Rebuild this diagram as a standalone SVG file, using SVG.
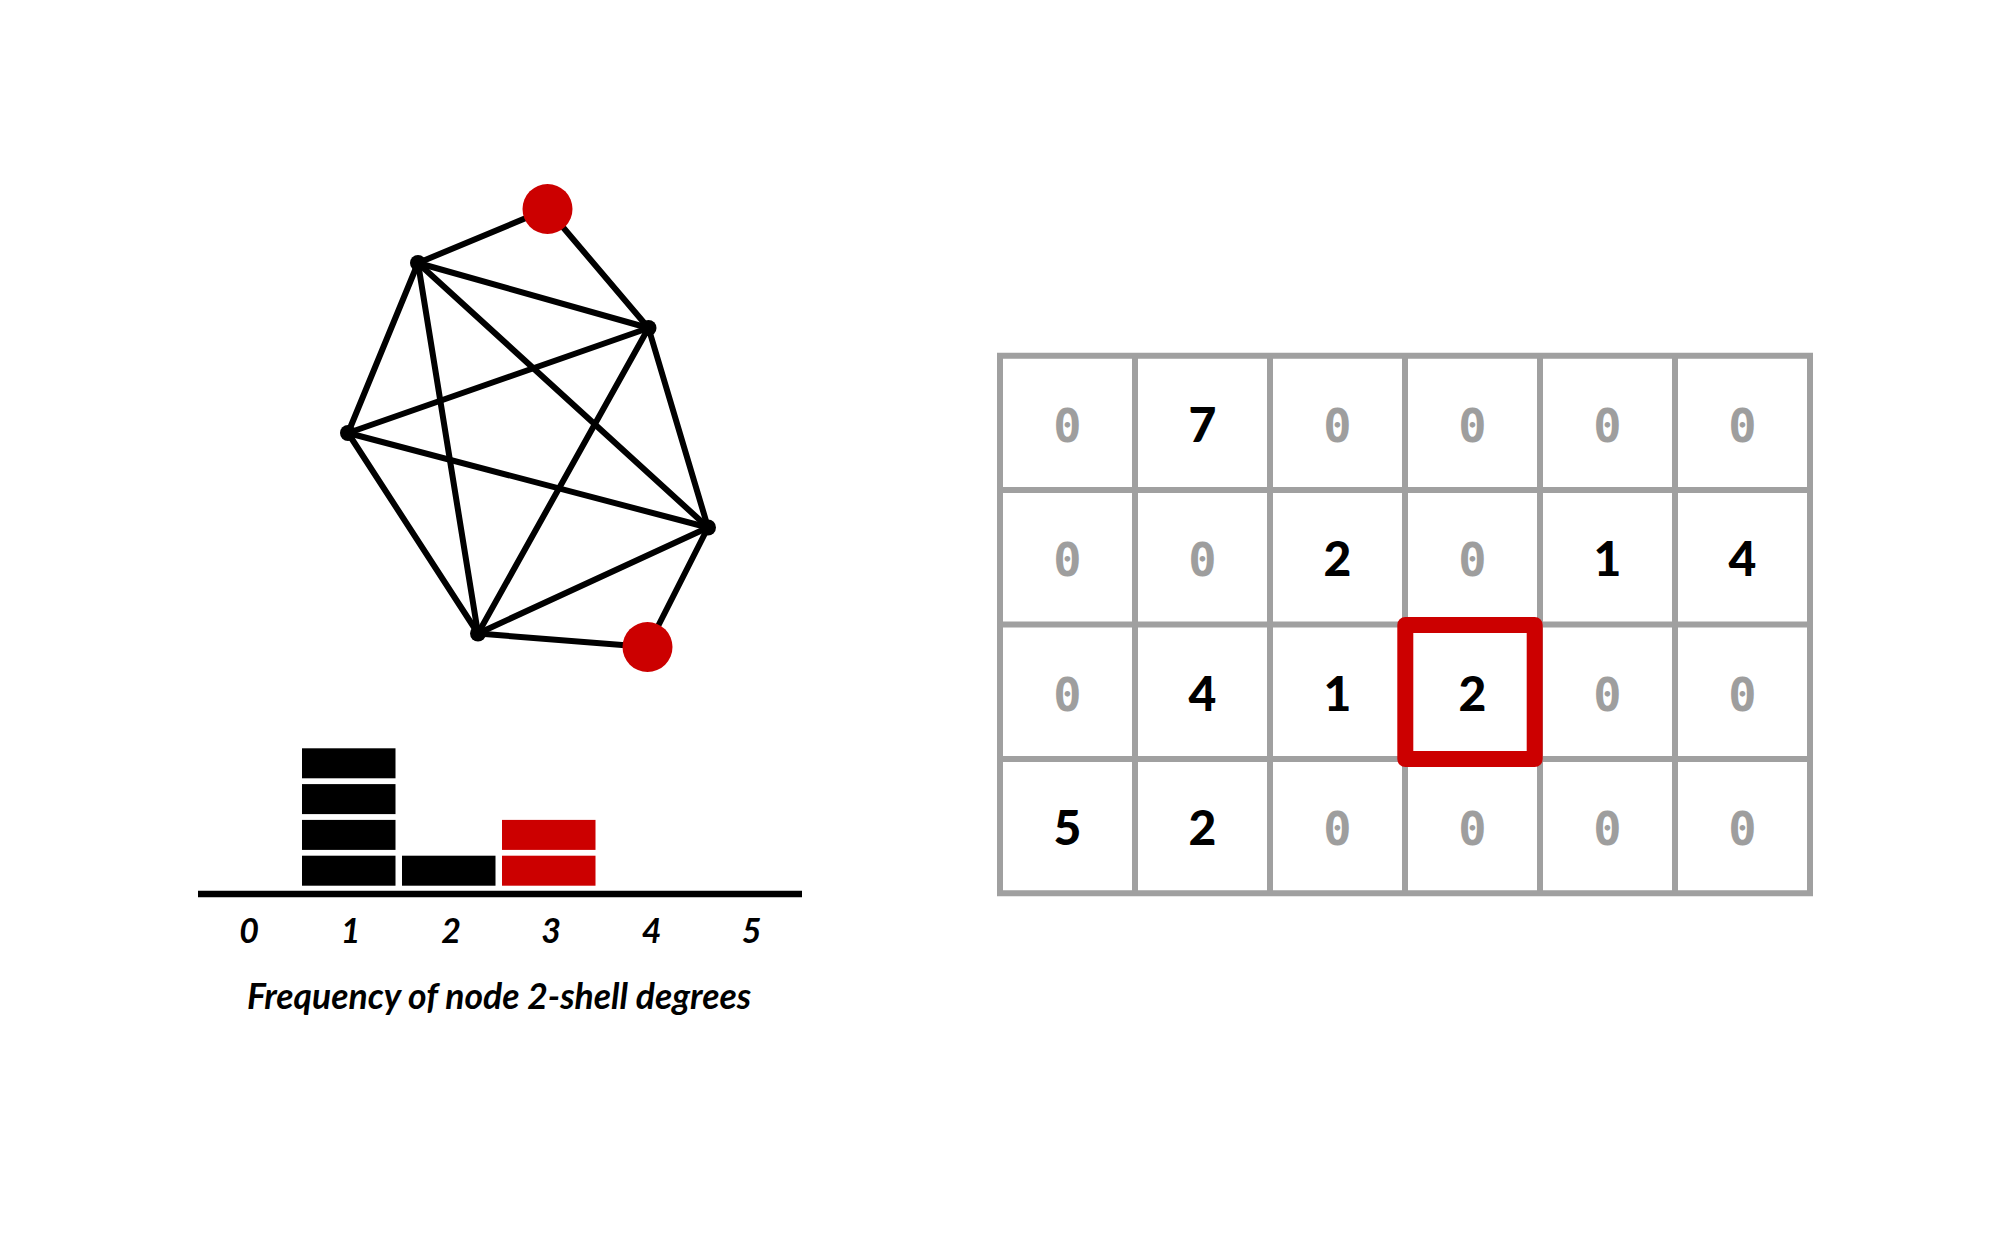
<svg xmlns="http://www.w3.org/2000/svg" width="2000" height="1250" viewBox="0 0 2000 1250">
<style>
.edge{stroke:#000;stroke-width:6;stroke-linecap:round}
.vert{fill:#000}
.hub{fill:#cc0000}
.bar{fill:#000}
.barr{fill:#cc0000}
.grid{stroke:#a0a0a0;stroke-width:6;fill:none;stroke-linecap:square}
.nz{font-family:Lato,"Liberation Sans",sans-serif;font-weight:900;font-size:48px;fill:#000;text-anchor:middle}
.z{font-family:"DejaVu Sans Mono","Liberation Mono",monospace;font-weight:700;font-size:47px;fill:#9e9e9e;text-anchor:middle}
.ax{font-family:Lato,"Liberation Sans",sans-serif;font-style:italic;font-weight:700;font-size:34px;fill:#000;text-anchor:middle}
.ttl{font-size:35.5px}
</style>
<rect width="2000" height="1250" fill="#fff"/>
<g id="connectors">
<line class="edge" x1="547.5" y1="209" x2="418" y2="263"/>
<line class="edge" x1="547.5" y1="209" x2="648.5" y2="328"/>
<line class="edge" x1="418" y1="263" x2="648.5" y2="328"/>
<line class="edge" x1="418" y1="263" x2="348" y2="433"/>
<line class="edge" x1="418" y1="263" x2="478" y2="633.5"/>
<line class="edge" x1="418" y1="263" x2="708" y2="527.5"/>
<line class="edge" x1="648.5" y1="328" x2="348" y2="433"/>
<line class="edge" x1="648.5" y1="328" x2="478" y2="633.5"/>
<line class="edge" x1="648.5" y1="328" x2="708" y2="527.5"/>
<line class="edge" x1="348" y1="433" x2="708" y2="527.5"/>
<line class="edge" x1="348" y1="433" x2="478" y2="633.5"/>
<line class="edge" x1="708" y1="527.5" x2="478" y2="633.5"/>
<line class="edge" x1="708" y1="527.5" x2="647.5" y2="647"/>
<line class="edge" x1="478" y1="633.5" x2="647.5" y2="647"/>
</g>
<g id="node-a"><circle class="vert" cx="418" cy="263" r="8"/></g>
<g id="node-b"><circle class="vert" cx="648.5" cy="328" r="8"/></g>
<g id="node-c"><circle class="vert" cx="348" cy="433" r="8"/></g>
<g id="node-d"><circle class="vert" cx="708" cy="527.5" r="8"/></g>
<g id="node-e"><circle class="vert" cx="478" cy="633.5" r="8"/></g>
<g id="node-red-top"><circle class="hub" cx="547.5" cy="209" r="25"/></g>
<g id="node-red-bottom"><circle class="hub" cx="647.5" cy="647" r="25"/></g>
<g id="histogram">
<rect class="bar" x="302" y="748.3" width="93.5" height="30"/>
<rect class="bar" x="302" y="784.1" width="93.5" height="30"/>
<rect class="bar" x="302" y="819.9" width="93.5" height="30"/>
<rect class="bar" x="302" y="855.7" width="93.5" height="30"/>
<rect class="bar" x="402" y="855.7" width="93.5" height="30"/>
<rect class="barr" x="502" y="819.9" width="93.5" height="30"/>
<rect class="barr" x="502" y="855.7" width="93.5" height="30"/>
<line x1="198" y1="894" x2="802" y2="894" stroke="#000" stroke-width="6.5"/>
<text class="ax" x="249" y="943">0</text>
<text class="ax" x="350.5" y="943">1</text>
<text class="ax" x="451" y="943">2</text>
<text class="ax" x="551" y="943">3</text>
<text class="ax" x="651.5" y="943">4</text>
<text class="ax" x="751.5" y="943">5</text>
<text class="ax ttl" x="499" y="1009">Frequency of node 2-shell degrees</text>
</g>
<g id="matrix">
<path class="grid" d="M1000 355.7V893.3M1135 355.7V893.3M1270 355.7V893.3M1405 355.7V893.3M1540 355.7V893.3M1675 355.7V893.3M1810 355.7V893.3M1000 355.7H1810M1000 490.1H1810M1000 624.5H1810M1000 758.9H1810M1000 893.3H1810"/>
<text class="z" x="1067.5" y="442">0</text>
<text class="nz" x="1202.5" y="442">7</text>
<text class="z" x="1337.5" y="442">0</text>
<text class="z" x="1472.5" y="442">0</text>
<text class="z" x="1607.5" y="442">0</text>
<text class="z" x="1742.5" y="442">0</text>
<text class="z" x="1067.5" y="576.4">0</text>
<text class="z" x="1202.5" y="576.4">0</text>
<text class="nz" x="1337.5" y="576.4">2</text>
<text class="z" x="1472.5" y="576.4">0</text>
<text class="nz" x="1607.5" y="576.4">1</text>
<text class="nz" x="1742.5" y="576.4">4</text>
<text class="z" x="1067.5" y="710.8">0</text>
<text class="nz" x="1202.5" y="710.8">4</text>
<text class="nz" x="1337.5" y="710.8">1</text>
<text class="nz" x="1472.5" y="710.8">2</text>
<text class="z" x="1607.5" y="710.8">0</text>
<text class="z" x="1742.5" y="710.8">0</text>
<text class="nz" x="1067.5" y="845.2">5</text>
<text class="nz" x="1202.5" y="845.2">2</text>
<text class="z" x="1337.5" y="845.2">0</text>
<text class="z" x="1472.5" y="845.2">0</text>
<text class="z" x="1607.5" y="845.2">0</text>
<text class="z" x="1742.5" y="845.2">0</text>
</g>
<g id="highlight">
<rect x="1405.3" y="625" width="129.4" height="134" fill="none" stroke="#cc0000" stroke-width="16" stroke-linejoin="round"/>
</g>
</svg>
